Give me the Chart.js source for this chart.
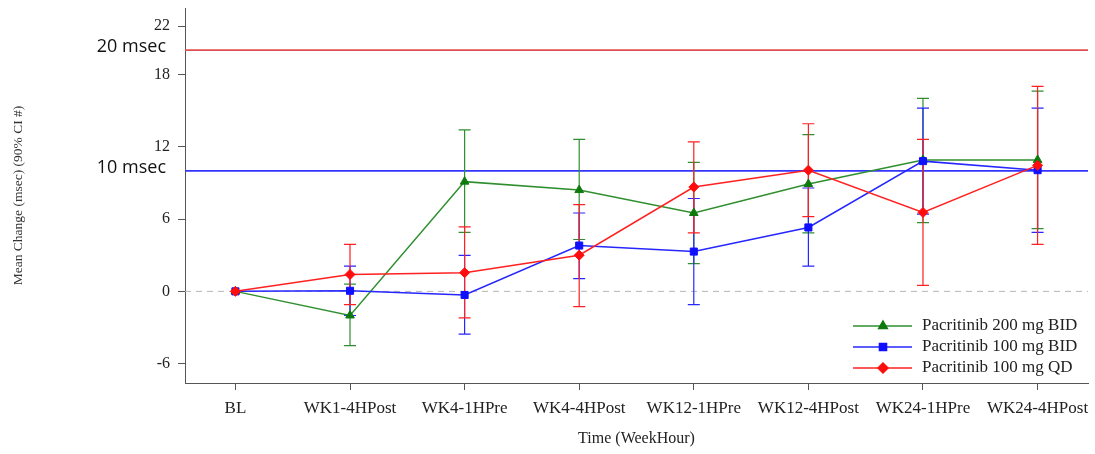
<!DOCTYPE html>
<html>
<head>
<meta charset="utf-8">
<script src="https://cdn.jsdelivr.net/npm/chart.js@4.4.1/dist/chart.umd.min.js"></script>
<style>
  body { margin: 0; background: #fff; }
  #wrap { width: 1095px; height: 454px; position: relative; }
</style>
</head>
<body>
<div id="wrap"><canvas id="qtChart"></canvas></div>
<script>
// --- Data ---
const timepoints = ['BL', 'WK1-4HPost', 'WK4-1HPre', 'WK4-4HPost', 'WK12-1HPre', 'WK12-4HPost', 'WK24-1HPre', 'WK24-4HPost'];
const yTicks = [-6, 0, 6, 12, 18, 22];

const mean200bid  = [0, -2.0, 9.1, 8.4, 6.5, 8.9, 10.9, 10.9];
const lower200bid = [0, -4.5, 4.9, 4.3, 2.3, 4.85, 5.7, 5.2];
const upper200bid = [0, 0.6, 13.4, 12.6, 10.7, 13.0, 16.0, 16.6];

const mean100bid  = [0, 0.05, -0.3, 3.8, 3.3, 5.3, 10.8, 10.05];
const lower100bid = [0, -2.0, -3.55, 1.05, -1.1, 2.1, 6.4, 4.9];
const upper100bid = [0, 2.1, 2.98, 6.5, 7.7, 8.57, 15.2, 15.2];

const mean100qd  = [0, 1.4, 1.55, 3.0, 8.65, 10.05, 6.55, 10.45];
const lower100qd = [0, -1.1, -2.2, -1.27, 4.85, 6.2, 0.5, 3.9];
const upper100qd = [0, 3.9, 5.35, 7.2, 12.4, 13.9, 12.6, 17.0];

const refValues = [20, 10];
const refLabels = ['20 msec', '10 msec'];
const refColors = ['#e0504f', '#3434ff'];

const serif = '"Liberation Serif", "Times New Roman", serif';

const toPoints = arr => arr.map((v, i) => ({ x: i, y: v }));

const makeSeries = (label, mean, lo, hi, color, markColor, style, radius, order) => ({
    label: label,
    data: toPoints(mean),
    errLow: lo,
    errHigh: hi,
    borderColor: color,
    backgroundColor: markColor,
    pointBorderColor: markColor,
    pointBackgroundColor: markColor,
    pointStyle: style,
    pointRadius: radius,
    pointBorderWidth: 1,
    borderWidth: 1.5,
    tension: 0,
    order: order
});

const datasets = [
    makeSeries('Pacritinib 200 mg BID', mean200bid, lower200bid, upper200bid, '#2f8f2f', '#0e7a0e', 'triangle', 5, 2),
    makeSeries('Pacritinib 100 mg BID', mean100bid, lower100bid, upper100bid, '#2626ff', '#1010ff', 'rect', 5, 1),
    makeSeries('Pacritinib 100 mg QD', mean100qd, lower100qd, upper100qd, '#ff2020', '#ff0d0d', 'rectRot', 5, 0)
];

// zero line, reference lines, error bars and legend
const qtExtras = {
    id: 'qtExtras',
    beforeDatasetsDraw(chart) {
        const { ctx, chartArea: a, scales: { x, y } } = chart;
        ctx.save();

        const y0 = y.getPixelForValue(0);
        ctx.strokeStyle = '#b5b5b5';
        ctx.lineWidth = 1;
        ctx.setLineDash([6, 5]);
        ctx.beginPath();
        ctx.moveTo(a.left, y0);
        ctx.lineTo(a.right, y0);
        ctx.stroke();
        ctx.setLineDash([]);

        refValues.forEach((v, i) => {
            const py = y.getPixelForValue(v);
            ctx.strokeStyle = refColors[i];
            ctx.lineWidth = 1.8;
            ctx.beginPath();
            ctx.moveTo(a.left, py);
            ctx.lineTo(a.right, py);
            ctx.stroke();
            ctx.fillStyle = '#111';
            ctx.font = '18px "Open Sans", sans-serif';
            ctx.textAlign = 'right';
            ctx.textBaseline = 'middle';
            ctx.fillText(refLabels[i], 166, py - 3);
        });

        chart.data.datasets.forEach((ds, di) => {
            if (!chart.isDatasetVisible(di)) return;
            ctx.strokeStyle = ds.borderColor;
            ctx.lineWidth = 1.2;
            ds.errLow.forEach((lo, i) => {
                const hi = ds.errHigh[i];
                if (lo === hi) return;
                const px = x.getPixelForValue(i);
                const pl = y.getPixelForValue(lo);
                const ph = y.getPixelForValue(hi);
                ctx.beginPath();
                ctx.moveTo(px, pl); ctx.lineTo(px, ph);
                ctx.moveTo(px - 6, pl); ctx.lineTo(px + 6, pl);
                ctx.moveTo(px - 6, ph); ctx.lineTo(px + 6, ph);
                ctx.stroke();
            });
        });
        ctx.restore();
    },
    afterDraw(chart) {
        const { ctx, chartArea: a } = chart;
        const x0 = a.right - 235;
        const rowY = [a.bottom - 57, a.bottom - 36, a.bottom - 15];
        ctx.save();
        chart.data.datasets.forEach((ds, i) => {
            const ly = rowY[i];
            ctx.strokeStyle = ds.borderColor;
            ctx.lineWidth = 1.5;
            ctx.beginPath();
            ctx.moveTo(x0, ly);
            ctx.lineTo(x0 + 59, ly);
            ctx.stroke();
            ctx.fillStyle = ds.pointBackgroundColor;
            ctx.strokeStyle = ds.pointBorderColor;
            Chart.helpers.drawPoint(ctx, {
                pointStyle: ds.pointStyle,
                radius: ds.pointRadius,
                rotation: 0,
                borderWidth: 1
            }, x0 + 30, ly);
            ctx.fillStyle = '#222';
            ctx.font = '17px ' + serif;
            ctx.textAlign = 'left';
            ctx.textBaseline = 'middle';
            ctx.fillText(ds.label, x0 + 69, ly);
        });
        ctx.restore();
    }
};

const ctx = document.getElementById('qtChart').getContext('2d');
new Chart(ctx, {
    type: 'line',
    data: { datasets: datasets },
    plugins: [qtExtras],
    options: {
        responsive: true,
        maintainAspectRatio: false,
        animation: false,
        layout: { padding: { top: 8, right: 7, left: 0, bottom: 0 } },
        plugins: {
            legend: { display: false },
            tooltip: { enabled: false }
        },
        scales: {
            x: {
                type: 'linear',
                min: -0.44,
                max: 7.44,
                afterBuildTicks: scale => { scale.ticks = timepoints.map((_, i) => ({ value: i })); },
                afterFit: scale => {
                    scale.height = 71;
                    scale.paddingLeft = 0;
                    scale.paddingRight = 0;
                },
                ticks: {
                    callback: v => timepoints[v],
                    color: '#222',
                    font: { family: serif, size: 17 },
                    padding: 8,
                    maxRotation: 0,
                    autoSkip: false
                },
                grid: { drawOnChartArea: false, tickLength: 7, color: '#555' },
                border: { color: '#555', width: 1 },
                title: {
                    display: true,
                    text: 'Time (WeekHour)',
                    color: '#222',
                    font: { family: serif, size: 16 },
                    padding: { top: 0, bottom: 6 }
                }
            },
            y: {
                min: -7.6,
                max: 23.5,
                afterBuildTicks: scale => { scale.ticks = yTicks.map(v => ({ value: v })); },
                afterFit: scale => {
                    scale.width = 185;
                    scale.paddingTop = 0;
                    scale.paddingBottom = 0;
                },
                ticks: {
                    color: '#222',
                    font: { family: serif, size: 16 },
                    padding: 8
                },
                grid: { drawOnChartArea: false, tickLength: 7, color: '#555' },
                border: { color: '#555', width: 1 },
                title: {
                    display: true,
                    text: 'Mean Change (msec) (90% CI #)',
                    color: '#333',
                    font: { family: serif, size: 13.5 },
                    padding: { top: 10, bottom: 0 }
                }
            }
        }
    }
});
</script>
</body>
</html>
